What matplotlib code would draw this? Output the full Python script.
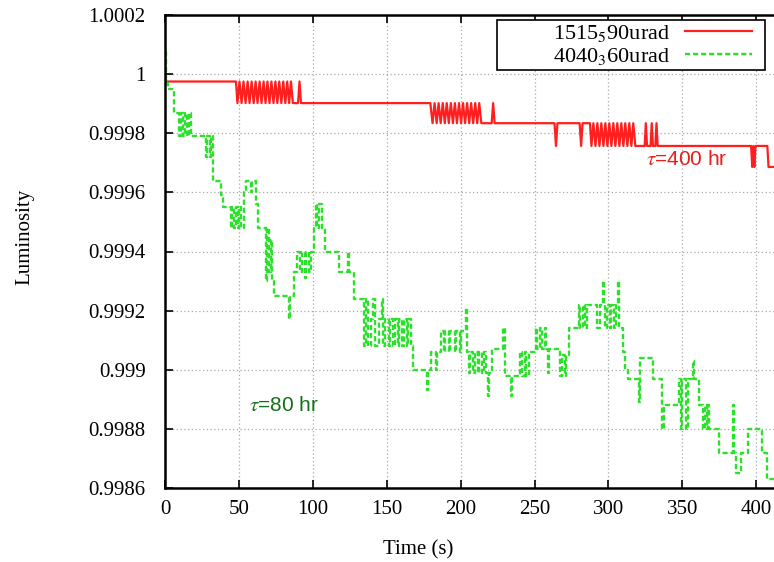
"""
Luminosity vs time for two crossing-angle configurations.
"""

import matplotlib

matplotlib.use("Agg")
import matplotlib.pyplot as plt
from matplotlib.patches import Rectangle

plt.rcParams["font.family"] = ["Liberation Serif", "DejaVu Serif"]
plt.rcParams["mathtext.fontset"] = "stix"

# --- data -------------------------------------------------------------------
x_ticks = [0, 50, 100, 150, 200, 250, 300, 350, 400]
y_ticks = [0.9986, 0.9988, 0.999, 0.9992, 0.9994, 0.9996, 0.9998, 1.0, 1.0002]
series_labels = ["1515$_5$90urad", "4040$_3$60urad"]

# red trace: sampled points (linear between them); value given as level index
red_levels = [0.999975, 0.999902, 0.999834, 0.999757, 0.999686]
red_t = [
    0.0, 48.0,
    49.0, 50.4, 51.8, 53.1, 54.5, 55.9, 57.2, 58.6, 60.0, 61.3, 62.6, 64.0,
    65.3, 66.7, 68.0, 69.3, 70.7, 72.0, 73.4, 74.7, 76.0, 77.3, 78.7, 80.0,
    81.4, 82.7, 84.0, 85.2, 86.5,
    90.0, 91.0, 92.0,
    179.5,
    181.0, 182.4, 183.8, 185.1, 186.5, 187.9, 189.3, 190.6, 192.0, 193.4,
    194.8, 196.1, 197.5, 198.9, 200.3, 201.6, 203.0, 204.4, 205.8, 207.1,
    208.5, 209.9, 211.2, 212.6, 214.0,
    221.0, 222.0, 223.0,
    263.5, 264.5, 265.5, 280.5, 281.5, 282.5,
    287.5,
    288.5, 289.8, 291.2, 292.5, 293.9, 295.2, 296.6, 297.9, 299.3, 300.6,
    302.0, 303.3, 304.7, 306.0, 307.4, 308.7, 310.1, 311.4, 312.8, 314.1,
    315.5, 316.8, 318.2,
    324.5, 325.3, 326.1, 328.5, 329.3, 330.1, 331.7, 332.5, 333.3,
    396.5, 397.3, 398.0, 398.7, 399.5, 407.5, 408.3, 412.0,
]
red_idx = [
    0, 0,
    1, 0, 1, 0, 1, 0, 1, 0, 1, 0, 1, 0,
    1, 0, 1, 0, 1, 0, 1, 0, 1, 0, 1, 0,
    1, 0, 1, 0, 1,
    1, 0, 1,
    1,
    2, 1, 2, 1, 2, 1, 2, 1, 2, 1,
    2, 1, 2, 1, 2, 1, 2, 1, 2, 1,
    2, 1, 2, 1, 2,
    2, 1, 2,
    2, 3, 2, 2, 3, 2,
    2,
    3, 2, 3, 2, 3, 2, 3, 2, 3, 2,
    3, 2, 3, 2, 3, 2, 3, 2, 3, 2,
    3, 2, 3,
    3, 2, 3, 3, 2, 3, 3, 2, 3,
    3, 4, 3, 4, 3, 3, 4, 4,
]
red_v = [red_levels[i] for i in red_idx]

# green trace: change times and the value held after each (step trace)
green_t = [
    0.0, 0.7, 1.8, 6.3,
    9.6, 10.6, 12.5, 13.4, 15.0, 15.9, 17.6,
    27.7, 28.6, 30.2, 31.0, 32.2,
    38.0, 39.5,
    44.5, 45.5, 47.0, 48.0, 49.5, 50.3, 51.5,
    53.4, 55.0, 58.0, 59.0, 61.5, 63.0,
    68.0, 69.2, 70.5, 71.5, 72.5, 73.6,
    84.0, 84.7,
    87.0, 89.0, 91.5, 92.5, 94.5, 95.5, 97.5, 98.5,
    100.5, 102.0, 103.0, 104.5, 106.5, 108.5,
    117.5, 124.0, 124.7, 127.7,
    134.5, 136.0, 137.0, 139.5, 141.0, 142.0, 144.5, 146.5, 147.5, 149.0,
    151.5, 152.5, 154.5, 155.5, 157.5, 158.5, 160.5, 161.5, 163.5, 164.5, 166.5,
    168.0, 177.5, 178.2, 180.0, 183.0, 184.0, 186.5,
    188.5, 189.5, 192.0, 193.0, 196.0, 197.0, 199.5, 200.5,
    203.4, 204.1, 205.5, 206.5, 208.5, 209.5, 211.5, 212.5, 214.5, 215.5, 217.0,
    218.5, 219.3, 221.5,
    229.0, 229.7, 234.0, 234.7,
    240.5, 241.5, 243.5, 244.5, 246.0,
    251.0, 252.0, 254.0, 255.0, 257.0, 258.0, 259.3, 260.0,
    267.5, 268.5, 270.5, 271.5, 273.5,
    280.0, 281.0, 283.0, 284.0, 285.5,
    292.5, 294.5, 296.0, 296.7, 298.0, 299.0, 301.0, 302.0, 304.0, 305.0, 306.7, 307.4,
    310.0, 311.5, 313.0,
    320.5, 321.5, 330.0, 336.5, 337.5, 347.5,
    349.0, 350.0, 352.5, 353.5, 357.0, 357.7,
    361.0, 364.0, 365.0, 366.5, 367.2, 368.0,
    374.5, 384.3, 385.0, 386.5, 389.5,
    394.6, 404.0, 407.4, 412.0,
]
green_v = [
    1.000075, 0.99997, 0.99995, 0.99987,
    0.99979, 0.99987, 0.99979, 0.99987, 0.99979, 0.99987, 0.99979,
    0.99972, 0.99979, 0.99972, 0.99979, 0.99964,
    0.99959, 0.99955,
    0.99948, 0.99955, 0.99948, 0.99955, 0.99948, 0.99955, 0.99948,
    0.9996, 0.99964, 0.9996, 0.99964, 0.99956, 0.99948,
    0.9993, 0.99948, 0.99933, 0.99944, 0.9993, 0.99925,
    0.99917, 0.99925,
    0.99933, 0.9994, 0.99933, 0.9994, 0.99931, 0.9994, 0.99933, 0.9994,
    0.99948, 0.99956, 0.99948, 0.99956, 0.99948, 0.9994,
    0.99933, 0.9994, 0.99933, 0.99924,
    0.99908, 0.99924, 0.99908, 0.99917, 0.99924, 0.99908, 0.99917, 0.99924, 0.99908, 0.99917,
    0.99908, 0.99917, 0.99908, 0.99917, 0.99908, 0.99917, 0.99908, 0.99917, 0.99908, 0.99917, 0.99908,
    0.999, 0.99893, 0.999, 0.99906, 0.999, 0.99906, 0.99913,
    0.99906, 0.99913, 0.99906, 0.99913, 0.99906, 0.99913, 0.99906, 0.99913,
    0.99921, 0.99906, 0.99899, 0.99906, 0.99899, 0.99906, 0.99899, 0.99906, 0.99899, 0.99906, 0.99899,
    0.99891, 0.99899, 0.99907,
    0.99914, 0.99898, 0.99891, 0.99898,
    0.99906, 0.99898, 0.99906, 0.99898, 0.99906,
    0.99914, 0.99907, 0.99914, 0.99907, 0.99914, 0.99907, 0.99899, 0.99907,
    0.99898, 0.99905, 0.99898, 0.99905, 0.99914,
    0.99922, 0.99914, 0.99922, 0.99914, 0.99922,
    0.99914, 0.99922, 0.9993, 0.99922, 0.99914, 0.99922, 0.99914, 0.99922, 0.99914, 0.99922, 0.9993, 0.99914,
    0.99906, 0.999, 0.99897,
    0.99889, 0.99904, 0.99897, 0.9988, 0.99888, 0.99897,
    0.9988, 0.99897, 0.9988, 0.99897, 0.99903, 0.99897,
    0.99888, 0.9988, 0.99888, 0.9988, 0.99888, 0.9988,
    0.99872, 0.99888, 0.99872, 0.99865, 0.99872,
    0.9988, 0.99872, 0.99863, 0.99863,
]
assert len(red_t) == len(red_idx) and len(green_t) == len(green_v)

fig = plt.figure(figsize=(7.74, 5.62), dpi=100)
ax = fig.add_axes([165 / 774, 1 - 488 / 562, 609 / 774, 473 / 562])

ax.plot(red_t, red_v, color="#ff1f1f", lw=1.6, label=series_labels[0])
ax.plot(green_t, green_v, drawstyle="steps-post", color="#2ee02e", lw=1.7,
        linestyle=(0, (2.2, 1.2)), label=series_labels[1])

ax.set_xlim(0, 412)
ax.set_ylim(0.9986, 1.0002)
ax.set_xticks(x_ticks)
ax.set_yticks(y_ticks)
ax.set_yticklabels([f"{v:g}" for v in y_ticks])
ax.tick_params(direction="in", length=6, width=1.2, labelsize=15, top=True,
               right=False)
ax.tick_params(axis="y", pad=14)
ax.tick_params(axis="x", pad=9)
ax.grid(True, linestyle=(0, (1, 2)), color="#a8a8a8", linewidth=0.9)
ax.set_axisbelow(True)
for side in ("left", "bottom", "top"):
    ax.spines[side].set_linewidth(1.8)
ax.spines["right"].set_visible(False)

ax.set_xlabel("Time (s)", fontsize=15)
ax.xaxis.set_label_coords(253 / 609, -0.11)
ax.set_ylabel("Luminosity", fontsize=15)
ax.yaxis.set_label_coords(-0.215, 0.53)

# gnuplot-style key: wide box, text right-aligned next to the line sample
ax.add_patch(Rectangle((497 / 774, 1 - 70 / 562), 268 / 774, 50 / 562,
                       transform=fig.transFigure, facecolor="white",
                       edgecolor="black", lw=1.2, zorder=4, clip_on=False))
leg = ax.legend(loc="upper right", bbox_to_anchor=(752 / 774, 1 - 23 / 562),
                bbox_transform=fig.transFigure, markerfirst=False, fontsize=16,
                frameon=False, borderaxespad=0, borderpad=0,
                labelspacing=0.08, handlelength=3.0, handletextpad=0.7)
leg.set_zorder(5)

ax.text(325.5, 0.99971, r"$\tau$=400 hr", color="#e3201c", fontsize=15,
        family=["Liberation Sans", "DejaVu Sans"], va="center")
ax.text(56.5, 0.99888, r"$\tau$=80 hr", color="#12701c", fontsize=15,
        family=["Liberation Sans", "DejaVu Sans"], va="center")

fig.savefig("out.png", dpi=100)
